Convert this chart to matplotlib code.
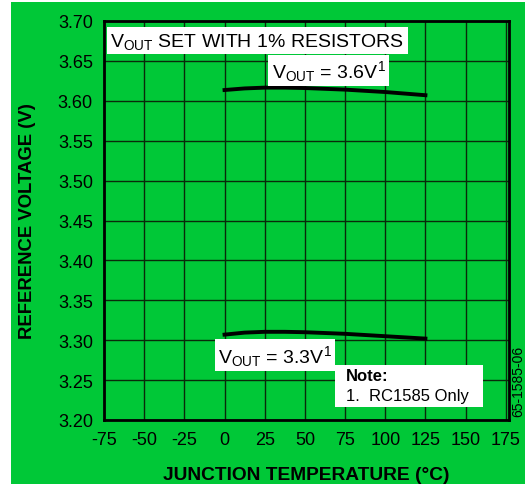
import matplotlib
matplotlib.use("Agg")
from matplotlib import pyplot as plt
from matplotlib.patches import Rectangle

plt.rcParams['font.family'] = ['Liberation Sans', 'DejaVu Sans']
plt.rcParams['mathtext.fontset'] = 'custom'
plt.rcParams['mathtext.rm'] = 'Liberation Sans'
plt.rcParams['mathtext.it'] = 'Liberation Sans'

# data
temps = [0, 12.5, 25, 37.5, 50, 62.5, 75, 87.5, 100, 112.5, 125]
vout_36 = [3.6135, 3.6155, 3.6165, 3.6165, 3.616, 3.615, 3.614, 3.6125, 3.611, 3.609, 3.607]
vout_33 = [3.307, 3.3095, 3.3105, 3.3105, 3.31, 3.309, 3.308, 3.3065, 3.305, 3.3035, 3.302]

xticks = [-75, -50, -25, 0, 25, 50, 75, 100, 125, 150, 175]
yticks = [3.20, 3.25, 3.30, 3.35, 3.40, 3.45, 3.50, 3.55, 3.60, 3.65, 3.70]

green = '#00c837'

fig = plt.figure(figsize=(5.26, 4.85), dpi=100)
fig.patch.set_facecolor('white')
bg = Rectangle((11/526, 0), (525-11)/526, 1-3/485, transform=fig.transFigure,
               facecolor=green, edgecolor='none', zorder=-10)
fig.add_artist(bg)

ax = fig.add_axes([104/526, 1-421/485, (509-104)/526, (421-22)/485])
ax.set_facecolor(green)

ax.plot(temps, vout_36, color='black', lw=2.8, zorder=3)
ax.plot(temps, vout_33, color='black', lw=2.8, zorder=3)

ax.set_xlim(-75, 177)
ax.set_ylim(3.20, 3.70)
ax.set_xticks(xticks)
ax.set_yticks(yticks)
ax.set_xticklabels([str(t) for t in xticks], fontsize=13)
ax.set_yticklabels(['%.2f' % v for v in yticks], fontsize=13)
ax.tick_params(length=0, pad=8)
ax.grid(True, color='#0a2a0a', lw=1.0)
for s in ax.spines.values():
    s.set_linewidth(2)
    s.set_color('black')

ax.set_xlabel('JUNCTION TEMPERATURE (\u00b0C)', fontsize=13.8, fontweight='bold', labelpad=13)
ax.set_ylabel('REFERENCE VOLTAGE (V)', fontsize=13.3, fontweight='bold', labelpad=16)

box = dict(facecolor='white', edgecolor='none', pad=2.5)
ax.text(-71, 3.6755, r'V$_{\rm OUT}$ SET WITH 1% RESISTORS', fontsize=14,
        va='center', ha='left', bbox=box, zorder=4)
ax.text(29.5, 3.638, r'V$_{\rm OUT}$ = 3.6V$^{1}$', fontsize=14,
        va='center', ha='left', bbox=box, zorder=4)
ax.text(-4, 3.281, r'V$_{\rm OUT}$ = 3.3V$^{1}$', fontsize=14,
        va='center', ha='left', bbox=box, zorder=4)
ax.text(75.5, 3.2556, 'Note:', fontsize=12, fontweight='bold',
        va='center', ha='left', zorder=5)
ax.text(75.5, 3.2305, '1.  RC1585 Only', fontsize=12,
        va='center', ha='left', zorder=5)
ax.add_patch(Rectangle((68.7, 3.2163), 92, 0.0527, facecolor='white',
                       edgecolor='none', zorder=4))

fig.text(518/526, 1-381/485, '65-1585-06', rotation=90, fontsize=10,
         ha='center', va='center')

fig.savefig('out.png', dpi=100)
